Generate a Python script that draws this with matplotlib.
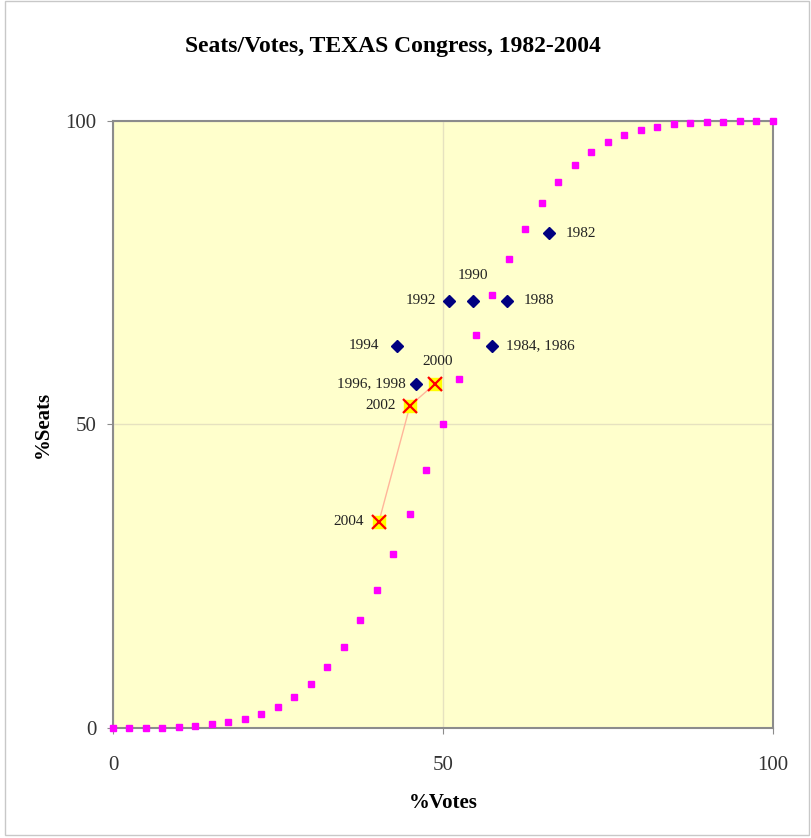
import matplotlib.pyplot as plt
from matplotlib.patches import Rectangle

# seats/votes curve (pink squares), every 2.5% of votes
curve_votes = [0, 2.5, 5, 7.5, 10, 12.5, 15, 17.5, 20, 22.5, 25, 27.5, 30, 32.5, 35,
               37.5, 40, 42.5, 45, 47.5, 50, 52.5, 55, 57.5, 60, 62.5, 65, 67.5, 70,
               72.5, 75, 77.5, 80, 82.5, 85, 87.5, 90, 92.5, 95, 97.5, 100]
curve_seats = [0, 0, 0, 0.05, 0.15, 0.3, 0.6, 1.0, 1.5, 2.3, 3.5, 5.1, 7.2, 10.0, 13.4,
               17.8, 22.7, 28.7, 35.3, 42.5, 50.0, 57.5, 64.7, 71.3, 77.2, 82.2, 86.5,
               89.9, 92.8, 94.9, 96.5, 97.7, 98.5, 99.0, 99.5, 99.7, 99.85, 99.9, 99.95, 100, 100]

# elections 1982-1998 (navy diamonds)
hist_labels = ['1982', '1990', '1992', '1988', '1994', '1984, 1986', '1996, 1998']
hist_votes = [66.1, 54.5, 50.9, 59.7, 43.0, 57.4, 45.9]
hist_seats = [81.5, 70.4, 70.4, 70.4, 63.0, 63.0, 56.7]

# elections 2000-2004 (yellow crosses)
new_labels = ['2000', '2002', '2004']
new_votes = [48.8, 45.0, 40.3]
new_seats = [56.7, 53.1, 34.0]

plt.rcParams['font.family'] = ['Liberation Serif', 'DejaVu Serif']

fig = plt.figure(figsize=(8.11, 8.38), dpi=100)
fig.patches.append(Rectangle((0.006, 0.004), 0.991, 0.995, transform=fig.transFigure,
                             fill=False, edgecolor='#c8c8c8', linewidth=1))
ax = fig.add_axes([0.1393, 0.1313, 0.8138, 0.7243])
ax.set_facecolor('#ffffcc')

ax.plot(curve_votes, curve_seats, linestyle='none', marker='s', markersize=5,
        color='#ff00ff', clip_on=False, zorder=3)
ax.plot(hist_votes, hist_seats, linestyle='none', marker='D', markersize=6.5,
        color='#000080', zorder=4)
ax.plot(new_votes, new_seats, color='#ffb59a', linewidth=1, zorder=4)
ax.plot(new_votes, new_seats, linestyle='none', marker='s', markersize=9,
        color='#ffff00', zorder=5)
ax.plot(new_votes, new_seats, linestyle='none', marker='x', markersize=10,
        markeredgewidth=1.6, color='#ff0000', zorder=6)

offsets = {
    '1982': (12, 0, 'left'), '1990': (0, 18, 'center'), '1992': (-9, 0, 'right'),
    '1988': (12, 0, 'left'), '1994': (-13, 0, 'right'), '1984, 1986': (10, 0, 'left'),
    '1996, 1998': (-7, 0, 'right'),
}
for lab, x, y in zip(hist_labels, hist_votes, hist_seats):
    dx, dy, ha = offsets[lab]
    ax.annotate(lab, (x, y), xytext=(dx, dy), textcoords='offset points',
                ha=ha, va='center', fontsize=11, color='#222222')
new_off = {'2000': (2, 16, 'center'), '2002': (-10, 0, 'right'), '2004': (-11, 0, 'right')}
for lab, x, y in zip(new_labels, new_votes, new_seats):
    dx, dy, ha = new_off[lab]
    ax.annotate(lab, (x, y), xytext=(dx, dy), textcoords='offset points',
                ha=ha, va='center', fontsize=11, color='#222222')

ax.set_xlim(0, 100)
ax.set_ylim(0, 100)
ax.set_xticks([0, 50, 100])
ax.set_yticks([0, 50, 100])
ax.grid(True, color='#e6e2c0', linewidth=1)
ax.set_axisbelow(True)
for s in ax.spines.values():
    s.set_color('#8c8c8c')
    s.set_linewidth(1.5)
ax.tick_params(axis='both', labelsize=15, color='#8c8c8c', length=4, colors='#333333')
ax.tick_params(axis='x', pad=16)
ax.tick_params(axis='y', pad=8)

ax.set_xlabel('%Votes', fontsize=15, fontweight='bold', labelpad=13)
ax.set_ylabel('%Seats', fontsize=15, fontweight='bold', labelpad=9)
fig.suptitle('Seats/Votes, TEXAS Congress, 1982-2004', fontsize=17, fontweight='bold',
             x=0.485, y=0.957)

fig.savefig('out.png', dpi=100)
